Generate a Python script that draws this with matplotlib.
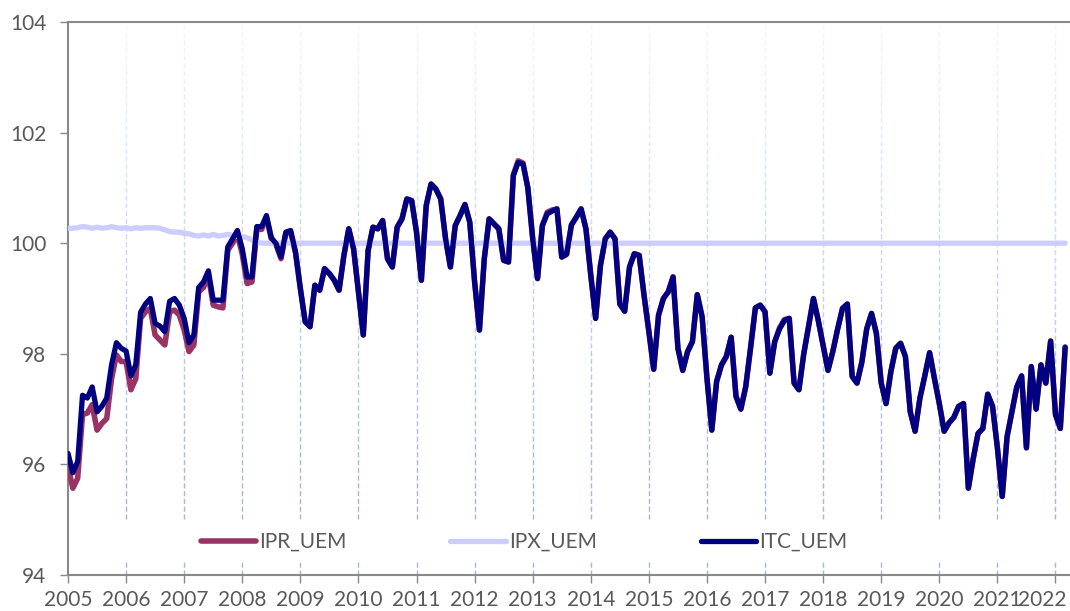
import numpy as np
import matplotlib.pyplot as plt
import matplotlib.transforms as mtransforms

plt.rcParams['font.family'] = ['Lato', 'DejaVu Sans']

years = list(range(2005, 2023))
year_labels = [str(y) for y in years]
y_ticks = [94, 96, 98, 100, 102, 104]

# monthly values, Jan 2005 .. Mar 2022
ipr_uem = [
    95.96, 95.57, 95.75, 96.90, 96.93, 97.08, 96.62, 96.74, 96.83, 97.55, 97.98, 97.86,
    97.86, 97.35, 97.55, 98.64, 98.76, 98.82, 98.34, 98.25, 98.16, 98.76, 98.79, 98.70,
    98.43, 98.04, 98.16, 99.12, 99.20, 99.42, 98.88, 98.85, 98.83, 99.87, 100.00, 100.15,
    99.80, 99.27, 99.30, 100.25, 100.25, 100.47, 100.08, 99.97, 99.72, 100.17, 100.20, 99.83,
    99.18, 98.58, 98.49, 99.24, 99.15, 99.54, 99.45, 99.33, 99.15, 99.78, 100.26, 99.90,
    99.12, 98.34, 99.87, 100.29, 100.26, 100.41, 99.72, 99.57, 100.29, 100.44, 100.80, 100.77,
    100.20, 99.33, 100.68, 101.07, 100.98, 100.80, 100.08, 99.57, 100.32, 100.50, 100.70, 100.38,
    99.30, 98.43, 99.72, 100.44, 100.35, 100.26, 99.69, 99.66, 101.24, 101.49, 101.45, 101.00,
    100.08, 99.36, 100.32, 100.56, 100.60, 100.62, 99.75, 99.80, 100.33, 100.47, 100.62, 100.26,
    99.42, 98.64, 99.60, 100.08, 100.20, 100.08, 98.90, 98.77, 99.57, 99.81, 99.78, 99.06,
    98.40, 97.72, 98.70, 99.00, 99.12, 99.39, 98.10, 97.70, 98.04, 98.22, 99.07, 98.67,
    97.56, 96.62, 97.50, 97.80, 97.95, 98.30, 97.23, 97.00, 97.40, 98.10, 98.83, 98.88,
    98.76, 97.65, 98.22, 98.47, 98.62, 98.64, 97.47, 97.35, 98.00, 98.50, 99.00, 98.60,
    98.15, 97.70, 98.04, 98.45, 98.82, 98.90, 97.59, 97.47, 97.85, 98.45, 98.73, 98.37,
    97.47, 97.10, 97.68, 98.10, 98.19, 97.95, 96.95, 96.60, 97.20, 97.60, 98.02, 97.55,
    97.10, 96.60, 96.75, 96.85, 97.05, 97.10, 95.57, 96.10, 96.56, 96.65, 97.27, 97.05,
    96.30, 95.42, 96.50, 96.95, 97.40, 97.60, 96.30, 97.77, 97.00, 97.80, 97.47, 98.23,
    96.90, 96.65, 98.12,
]

ipx_uem = [
    100.27, 100.27, 100.28, 100.30, 100.29, 100.27, 100.29, 100.27, 100.28, 100.30, 100.28, 100.27,
    100.28, 100.26, 100.28, 100.27, 100.28, 100.28, 100.28, 100.27, 100.24, 100.21, 100.20, 100.20,
    100.18, 100.17, 100.14, 100.13, 100.15, 100.13, 100.16, 100.13, 100.14, 100.16, 100.14, 100.12,
    100.12, 100.10, 100.06, 100.02, 100.00, 100.00, 100.00, 100.00, 100.00, 100.00, 100.00, 100.00,
    100.00, 100.00, 100.00, 100.00, 100.00, 100.00, 100.00, 100.00, 100.00, 100.00, 100.00, 100.00,
    100.00, 100.00, 100.00, 100.00, 100.00, 100.00, 100.00, 100.00, 100.00, 100.00, 100.00, 100.00,
    100.00, 100.00, 100.00, 100.00, 100.00, 100.00, 100.00, 100.00, 100.00, 100.00, 100.00, 100.00,
    100.00, 100.00, 100.00, 100.00, 100.00, 100.00, 100.00, 100.00, 100.00, 100.00, 100.00, 100.00,
    100.00, 100.00, 100.00, 100.00, 100.00, 100.00, 100.00, 100.00, 100.00, 100.00, 100.00, 100.00,
    100.00, 100.00, 100.00, 100.00, 100.00, 100.00, 100.00, 100.00, 100.00, 100.00, 100.00, 100.00,
    100.00, 100.00, 100.00, 100.00, 100.00, 100.00, 100.00, 100.00, 100.00, 100.00, 100.00, 100.00,
    100.00, 100.00, 100.00, 100.00, 100.00, 100.00, 100.00, 100.00, 100.00, 100.00, 100.00, 100.00,
    100.00, 100.00, 100.00, 100.00, 100.00, 100.00, 100.00, 100.00, 100.00, 100.00, 100.00, 100.00,
    100.00, 100.00, 100.00, 100.00, 100.00, 100.00, 100.00, 100.00, 100.00, 100.00, 100.00, 100.00,
    100.00, 100.00, 100.00, 100.00, 100.00, 100.00, 100.00, 100.00, 100.00, 100.00, 100.00, 100.00,
    100.00, 100.00, 100.00, 100.00, 100.00, 100.00, 100.00, 100.00, 100.00, 100.00, 100.00, 100.00,
    100.00, 100.00, 100.00, 100.00, 100.00, 100.00, 100.00, 100.00, 100.00, 100.00, 100.00, 100.00,
    100.00, 100.00, 100.00,
]

itc_uem = [
    96.20, 95.85, 96.05, 97.25, 97.20, 97.40, 96.95, 97.05, 97.20, 97.80, 98.20, 98.10,
    98.05, 97.60, 97.80, 98.75, 98.90, 99.00, 98.55, 98.50, 98.40, 98.95, 99.00, 98.88,
    98.64, 98.20, 98.34, 99.20, 99.30, 99.50, 98.97, 98.97, 98.97, 99.93, 100.08, 100.23,
    99.90, 99.39, 99.39, 100.30, 100.30, 100.50, 100.10, 99.99, 99.75, 100.20, 100.23, 99.84,
    99.18, 98.58, 98.49, 99.24, 99.15, 99.54, 99.45, 99.33, 99.15, 99.78, 100.26, 99.90,
    99.12, 98.34, 99.87, 100.29, 100.26, 100.41, 99.72, 99.57, 100.29, 100.44, 100.80, 100.77,
    100.20, 99.33, 100.68, 101.07, 100.98, 100.80, 100.08, 99.57, 100.32, 100.50, 100.70, 100.38,
    99.30, 98.43, 99.72, 100.44, 100.35, 100.26, 99.69, 99.66, 101.22, 101.46, 101.43, 101.00,
    100.08, 99.36, 100.32, 100.53, 100.58, 100.62, 99.75, 99.80, 100.33, 100.47, 100.62, 100.26,
    99.42, 98.64, 99.60, 100.08, 100.20, 100.08, 98.90, 98.77, 99.57, 99.81, 99.78, 99.06,
    98.40, 97.72, 98.70, 99.00, 99.12, 99.39, 98.10, 97.70, 98.04, 98.22, 99.07, 98.67,
    97.56, 96.62, 97.50, 97.80, 97.95, 98.30, 97.23, 97.00, 97.40, 98.10, 98.83, 98.88,
    98.76, 97.65, 98.22, 98.45, 98.60, 98.64, 97.47, 97.35, 98.00, 98.50, 99.00, 98.60,
    98.15, 97.70, 98.04, 98.45, 98.82, 98.90, 97.59, 97.47, 97.85, 98.45, 98.73, 98.37,
    97.47, 97.10, 97.68, 98.10, 98.19, 97.95, 96.95, 96.60, 97.20, 97.60, 98.02, 97.55,
    97.10, 96.60, 96.75, 96.85, 97.05, 97.10, 95.57, 96.10, 96.56, 96.65, 97.27, 97.05,
    96.30, 95.42, 96.50, 96.95, 97.40, 97.60, 96.30, 97.77, 97.00, 97.80, 97.47, 98.23,
    96.90, 96.65, 98.12,
]

x = np.arange(len(itc_uem))
year_pos = [12 * k for k in range(len(years))]
xmax = 207

fig = plt.figure(figsize=(10.7, 6.11), dpi=100)
ax = fig.add_axes([68 / 1070, 1 - 575 / 611, 1 - 68 / 1070, (575 - 22) / 611])

# dashed year gridlines, broken where the legend sits
grid_c = '#9db9e0'
for p in year_pos[1:]:
    ax.plot([p, p], [95.02, 104], color=grid_c, lw=1.0, ls=(0, (3.6, 2.0)), zorder=1)
    ax.plot([p, p], [94, 94.24], color=grid_c, lw=1.0, ls=(0, (3.6, 2.0)), zorder=1)

# fade the gridlines towards the top
alpha = np.clip(np.linspace(0.9, -0.15, 200), 0, 1)
grad = np.ones((200, 1, 4))
grad[:, 0, 3] = alpha
ax.imshow(grad, extent=(0, xmax, 94, 104), aspect='auto', zorder=1.5,
          interpolation='bilinear')

ax.plot(x, ipr_uem, color='#993366', lw=4.0, solid_joinstyle='round',
        solid_capstyle='round', label='IPR_UEM', zorder=3)
ax.plot(x, ipx_uem, color='#ccccff', lw=3.8, solid_joinstyle='round',
        solid_capstyle='round', label='IPX_UEM', zorder=3)
ax.plot(x, itc_uem, color='#000080', lw=3.8, solid_joinstyle='round',
        solid_capstyle='round', label='ITC_UEM', zorder=4)

ax.set_xlim(0, xmax)
ax.set_ylim(94, 104)
ax.set_yticks(y_ticks)
ax.set_xticks(year_pos)
ax.set_xticklabels(year_labels)

for s in ['left', 'bottom', 'top']:
    ax.spines[s].set_color('#898989')
    ax.spines[s].set_linewidth(1.5)
ax.spines['right'].set_visible(False)

ax.tick_params(axis='both', colors='#898989', labelcolor='#595959',
               labelsize=15, length=5.5, width=1.0, direction='out')
ax.tick_params(axis='y', pad=10)
ax.tick_params(axis='x', pad=5)

# last year label is pushed left so it fits in the picture
last = ax.get_xticklabels()[-1]
last.set_transform(last.get_transform() +
                   mtransforms.ScaledTranslation(-13 / 100, 0, fig.dpi_scale_trans))

leg = ax.legend(loc='center', bbox_to_anchor=(0.455, 0.06), ncol=3, frameon=False,
                fontsize=15, handlelength=2.65, handletextpad=0.15,
                columnspacing=5.0, labelcolor='#595959')
for h in leg.get_lines():
    h.set_solid_capstyle('round')

fig.savefig('out.png', dpi=100)
